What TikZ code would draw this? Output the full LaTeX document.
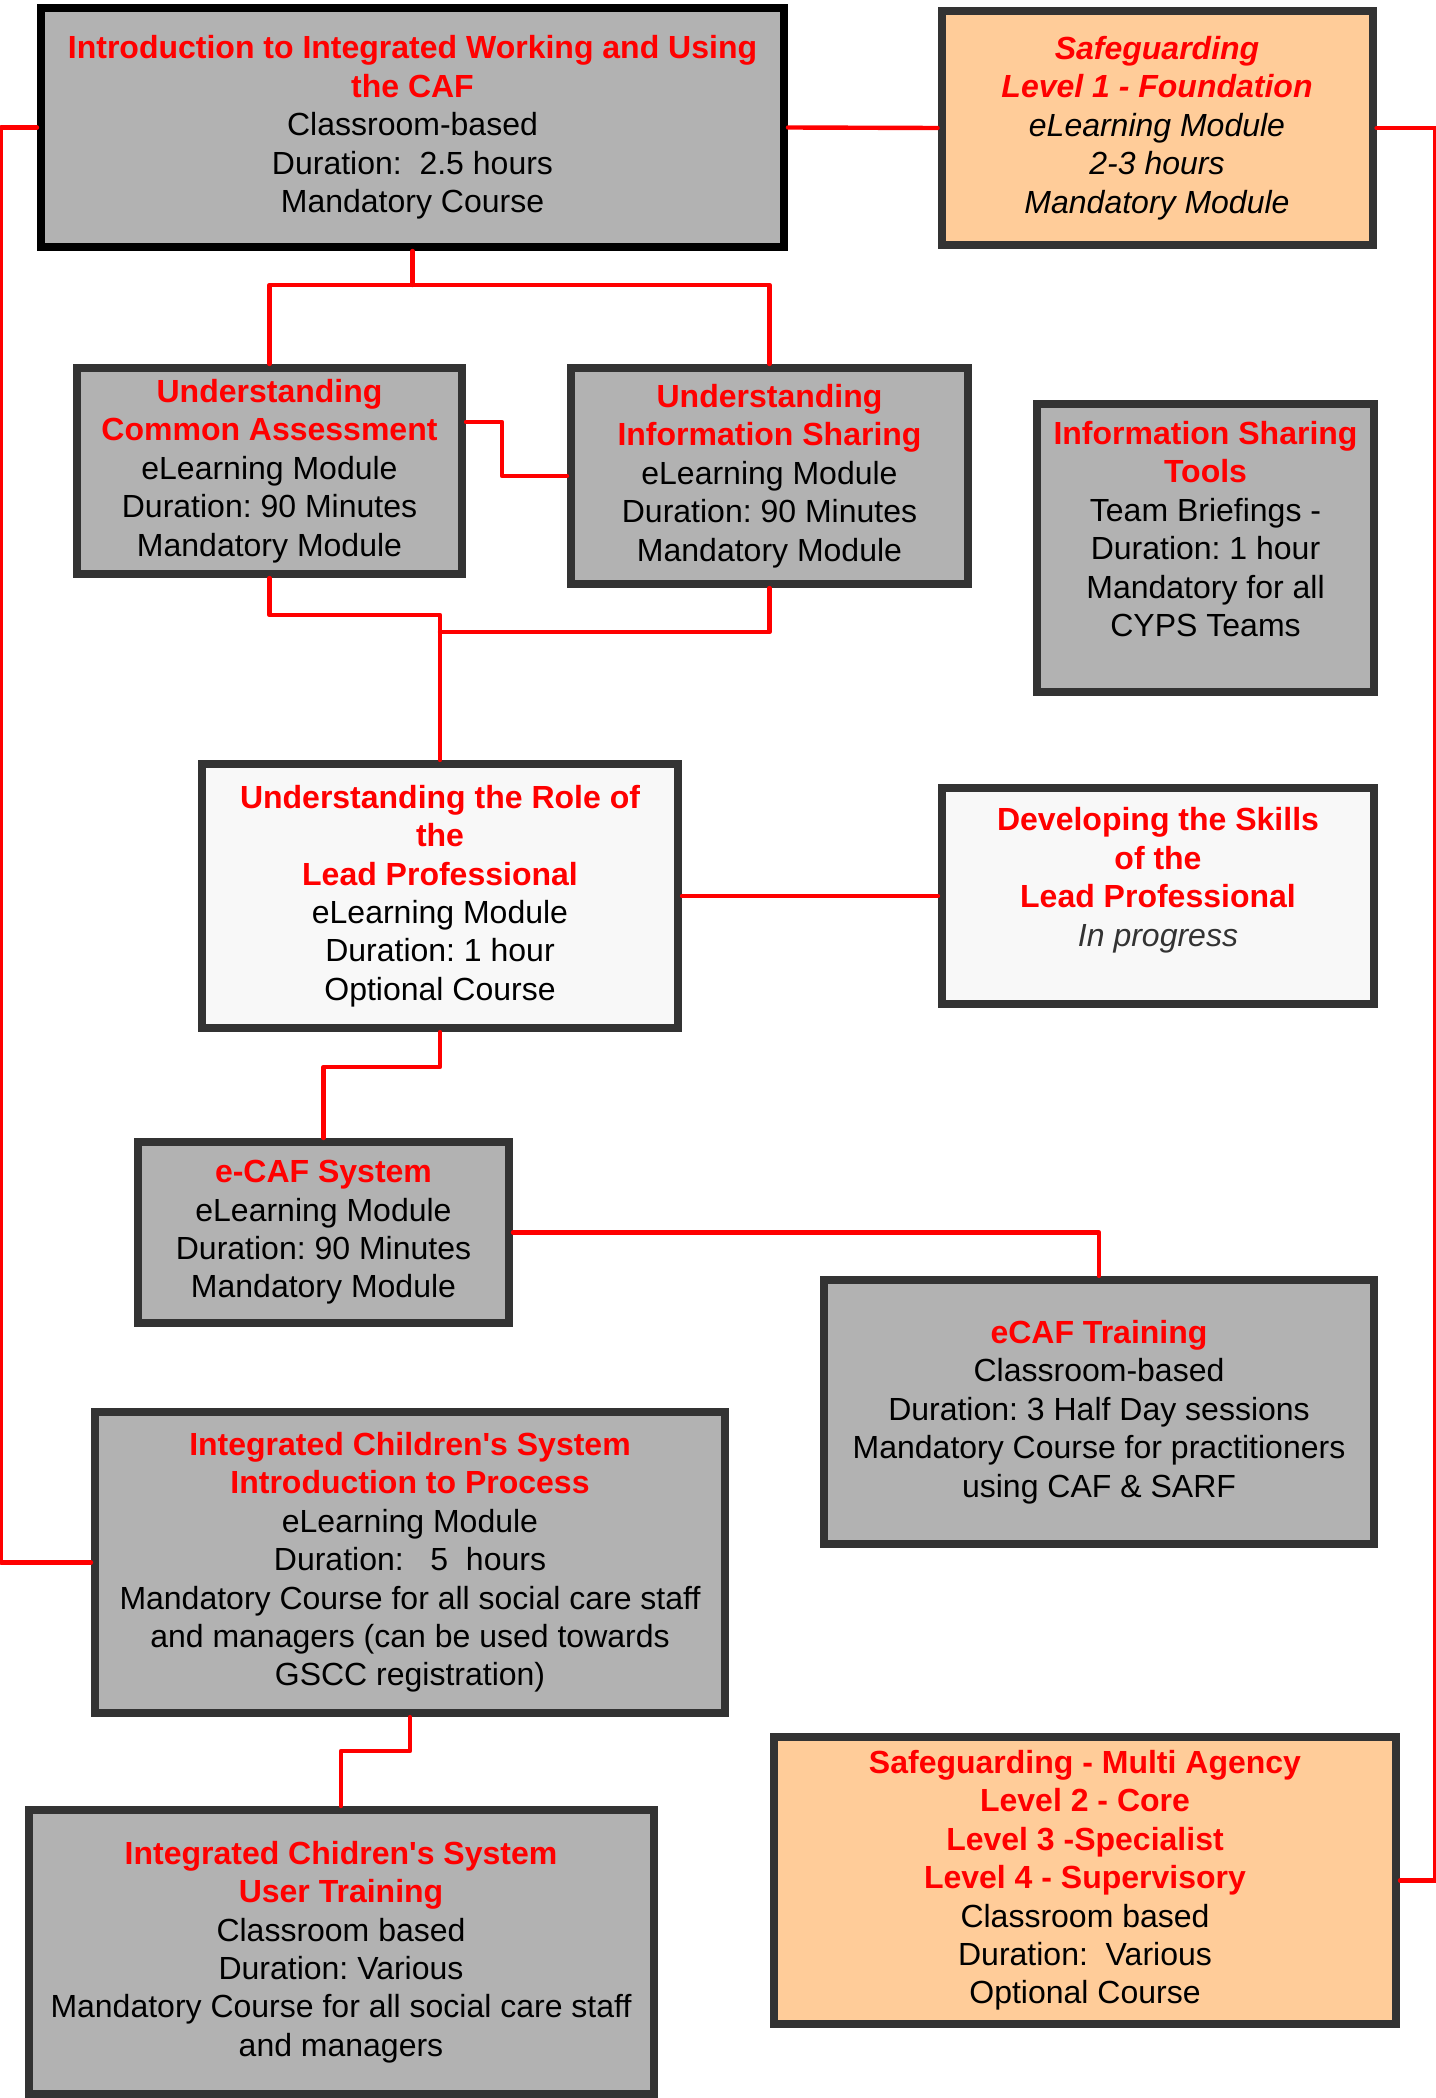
\documentclass[tikz,border=0pt]{standalone}
\usepackage{fontspec}
\setmainfont{Liberation Sans}
\usepackage{tikz}
\usetikzlibrary{positioning}
\definecolor{boxgray}{RGB}{178,178,178}
\definecolor{boxline}{RGB}{51,51,51}
\definecolor{peach}{RGB}{255,204,153}
\definecolor{pale}{RGB}{248,248,248}
\newcommand{\hd}[1]{{\color{red}\bfseries #1}}
\frenchspacing

\begin{document}
\begin{tikzpicture}[x=0.5pt, y=-0.5pt,
	box/.style={rectangle, fill=boxgray, draw=boxline, line width=4pt,
	inner sep=0pt, align=center, font=\fontsize{16pt}{19.2pt}\selectfont},
	link/.style={draw=red, line width=2.2pt, line cap=round, line join=round}
	]
	\useasboundingbox (0,0) rectangle (1435,2098);
	
	\node[box, draw=black, minimum width=371.5pt, minimum height=119.5pt] (intro) at (412.5,127.5)
	{\hd{Introduction to Integrated Working and Using}\\\hd{the CAF}\\Classroom-based\\Duration:\ \ 2.5 hours\\Mandatory Course};
	\node[box, fill=peach, minimum width=215.5pt, minimum height=116.5pt, font=\fontsize{16pt}{19.2pt}\selectfont\itshape] (sg1) at (1157,128)
	{\hd{Safeguarding}\\\hd{Level 1 - Foundation}\\eLearning Module\\2-3 hours\\Mandatory Module};
	\node[box, minimum width=192.5pt, minimum height=103pt] (ca) at (269.5,471)
	{\hd{Understanding}\\\hd{Common Assessment}\\eLearning Module\\Duration: 90 Minutes\\Mandatory Module};
	\node[box, minimum width=198.5pt, minimum height=108pt] (is) at (769.5,476)
	{\hd{Understanding}\\\hd{Information Sharing}\\eLearning Module\\Duration: 90 Minutes\\Mandatory Module};
	\node[box, minimum width=168.5pt, minimum height=144pt] (tools) at (1205.5,548)
	{\hd{Information Sharing}\\\hd{Tools}\\Team Briefings -\\Duration: 1 hour\\Mandatory for all\\CYPS Teams\\\mbox{}};
	\node[box, fill=pale, minimum width=238pt, minimum height=132pt] (lead) at (440,896)
	{\hd{Understanding the Role of}\\\hd{the}\\\hd{Lead Professional}\\eLearning Module\\Duration: 1 hour\\Optional Course};
	\node[box, fill=pale, minimum width=216pt, minimum height=108pt] (dev) at (1158,896)
	{\hd{Developing the Skills}\\\hd{of the}\\\hd{Lead Professional}\\{\color{boxline}\itshape In progress}\\\mbox{}};
	\node[box, minimum width=185.5pt, minimum height=90.5pt] (ecafsys) at (323.5,1232.5)
	{\hd{e-CAF System}\\eLearning Module\\Duration: 90 Minutes\\Mandatory Module};
	\node[box, minimum width=275pt, minimum height=132pt] (ecaftrain) at (1099,1412)
	{\hd{eCAF Training}\\Classroom-based\\Duration: 3 Half Day sessions\\Mandatory Course for practitioners\\using CAF \& SARF};
	\node[box, minimum width=315pt, minimum height=150.5pt] (icsintro) at (410,1562.5)
	{\hd{Integrated Children\textquotesingle s System}\\\hd{Introduction to Process}\\eLearning Module\\Duration:\ \ \ 5\ \ hours\\Mandatory Course for all social care\ staff\\and managers (can be used towards\\GSCC registration)};
	\node[box, minimum width=312.5pt, minimum height=142pt] (icsuser) at (341,1952)
	{\hd{Integrated Chidren\textquotesingle s System}\\\hd{User Training}\\Classroom based\\Duration: Various\\Mandatory Course for all social care\ staff\\and managers};
	\node[box, fill=peach, minimum width=311pt, minimum height=143.5pt] (sgmulti) at (1085,1880.5)
	{\hd{Safeguarding - Multi Agency}\\\hd{Level 2 - Core}\\\hd{Level 3 -Specialist}\\\hd{Level 4 - Supervisory}\\Classroom based\\Duration:\ \ Various\\Optional Course};
	
	% red connectors
	\coordinate (split) at (412.5,285);
	\coordinate (merge) at (440,632);
	\draw[link] (intro.west) -- ++(-36,0) |- (icsintro.west);
	\draw[link] (intro.east) -- (sg1.west);
	\draw[link] (sg1.east) -- ++(59,0) |- (sgmulti.east);
	\draw[link] (intro.south) -- (split);
	\draw[link] (ca.north) |- (split) -| (is.north);
	\draw[link] ([yshift=24.5pt]ca.east) -- ++(36,0) |- (is.west);
	\draw[link] (ca.south) -- ++(0,37) -| (lead.north);
	\draw[link] (is.south) |- (merge);
	\draw[link] (lead.east) -- (dev.west);
	\draw[link] (lead.south) -- ++(0,35) -| (ecafsys.north);
	\draw[link] (ecafsys.east) -| (ecaftrain.north);
	\draw[link] (icsintro.south) -- ++(0,34) -| (icsuser.north);
\end{tikzpicture}
\end{document}
